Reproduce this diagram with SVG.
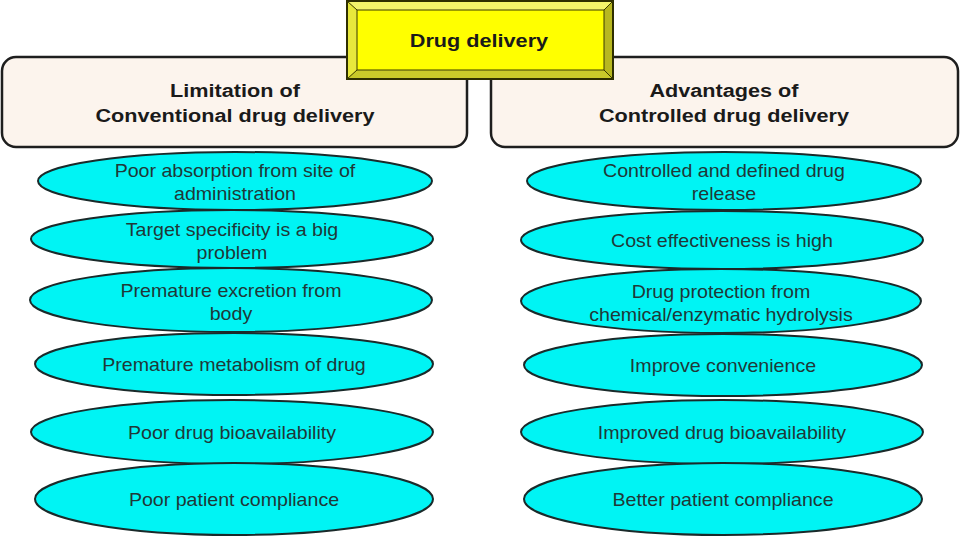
<svg xmlns="http://www.w3.org/2000/svg" width="960" height="540" viewBox="0 0 960 540">
<style>
.hdr{fill:#fcf4ed;stroke:#1e1e1e;stroke-width:2.5}
.ell{fill:#00f4f4;stroke:#1a2a2a;stroke-width:2}
.ht{font-family:"Liberation Sans",Arial,sans-serif;font-weight:bold;font-size:19px;fill:#1a1a1a;text-anchor:middle;transform-box:fill-box;transform-origin:center;transform:scaleX(1.14)}
.et{font-family:"Liberation Sans",Arial,sans-serif;font-size:18.5px;fill:#1f3838;text-anchor:middle;transform-box:fill-box;transform-origin:center;transform:scaleX(1.06)}
</style>
<rect width="960" height="540" fill="#ffffff"/>
<g id="connectors"></g>
<g id="left-header">
<rect class="hdr" x="2" y="57" width="465" height="90" rx="14"/>
<text class="ht" x="235" y="97">Limitation of</text>
<text class="ht" x="235" y="122">Conventional drug delivery</text>
</g>
<g id="right-header">
<rect class="hdr" x="491" y="57" width="467" height="90" rx="14"/>
<text class="ht" x="724" y="97">Advantages of</text>
<text class="ht" x="724" y="122">Controlled drug delivery</text>
</g>
<g id="title">
<rect x="347" y="1" width="266" height="78" fill="#ffff00" stroke="#2e2e00" stroke-width="2"/>
<polygon points="347,1 613,1 604,10 357,10" fill="#f4f46a"/>
<polygon points="347,1 357,10 357,70 347,79" fill="#e8e83c"/>
<polygon points="347,79 357,70 604,70 613,79" fill="#c9c92a"/>
<polygon points="613,1 613,79 604,70 604,10" fill="#b8b820"/>
<rect x="347" y="1" width="266" height="78" fill="none" stroke="#2e2e00" stroke-width="2"/>
<rect x="357" y="10" width="247" height="60" fill="#ffff00" stroke="#3a3a00" stroke-width="1"/>
<line x1="347" y1="1" x2="357" y2="10" stroke="#3a3a00" stroke-width="1"/>
<line x1="613" y1="1" x2="604" y2="10" stroke="#3a3a00" stroke-width="1"/>
<line x1="347" y1="79" x2="357" y2="70" stroke="#3a3a00" stroke-width="1"/>
<line x1="613" y1="79" x2="604" y2="70" stroke="#3a3a00" stroke-width="1"/>
<text class="ht" x="479" y="47">Drug delivery</text>
</g>
<g id="l1"><ellipse class="ell" cx="235" cy="181" rx="197" ry="29"/><text class="et" x="235" y="177">Poor absorption from site of</text><text class="et" x="235" y="200">administration</text></g>
<g id="l2"><ellipse class="ell" cx="232" cy="239" rx="201" ry="29"/><text class="et" x="232" y="236">Target specificity is a big</text><text class="et" x="232" y="259">problem</text></g>
<g id="l3"><ellipse class="ell" cx="231" cy="300" rx="201" ry="32"/><text class="et" x="231" y="297">Premature excretion from</text><text class="et" x="231" y="320">body</text></g>
<g id="l4"><ellipse class="ell" cx="234" cy="364" rx="199" ry="31"/><text class="et" x="234" y="371">Premature metabolism of drug</text></g>
<g id="l5"><ellipse class="ell" cx="232" cy="432" rx="201" ry="32"/><text class="et" x="232" y="439">Poor drug bioavailability</text></g>
<g id="l6"><ellipse class="ell" cx="234" cy="499" rx="199" ry="36"/><text class="et" x="234" y="506">Poor patient compliance</text></g>
<g id="r1"><ellipse class="ell" cx="724" cy="181" rx="197" ry="29"/><text class="et" x="724" y="177">Controlled and defined drug</text><text class="et" x="724" y="200">release</text></g>
<g id="r2"><ellipse class="ell" cx="722" cy="240" rx="201" ry="29"/><text class="et" x="722" y="247">Cost effectiveness is high</text></g>
<g id="r3"><ellipse class="ell" cx="721" cy="301" rx="200" ry="32"/><text class="et" x="721" y="298">Drug protection from</text><text class="et" x="721" y="321">chemical/enzymatic hydrolysis</text></g>
<g id="r4"><ellipse class="ell" cx="723" cy="365" rx="199" ry="31"/><text class="et" x="723" y="372">Improve convenience</text></g>
<g id="r5"><ellipse class="ell" cx="722" cy="432" rx="201" ry="32"/><text class="et" x="722" y="439">Improved drug bioavailability</text></g>
<g id="r6"><ellipse class="ell" cx="723" cy="499" rx="199" ry="36"/><text class="et" x="723" y="506">Better patient compliance</text></g>
</svg>
